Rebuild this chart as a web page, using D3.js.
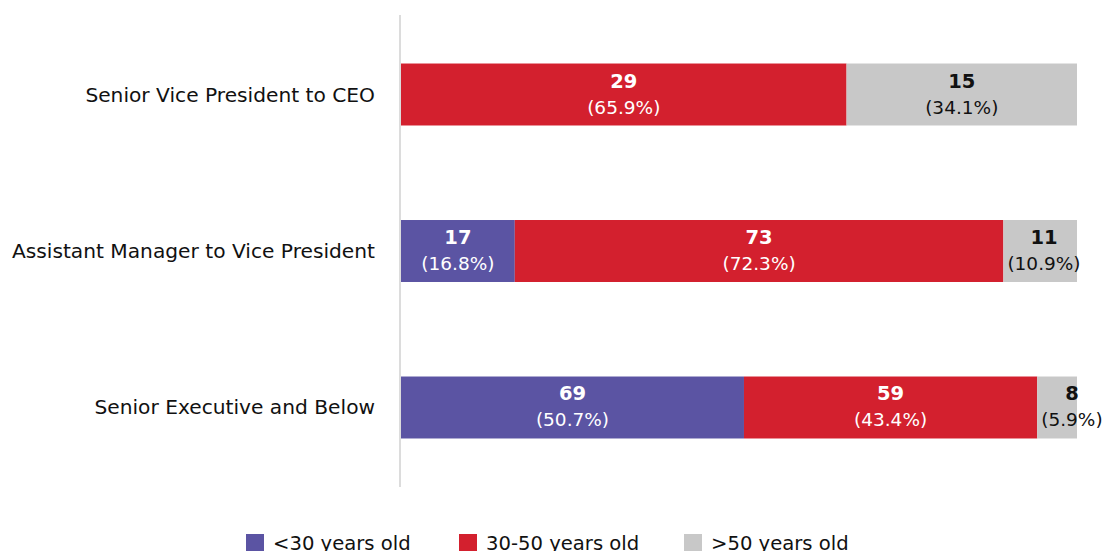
<!DOCTYPE html>
<html><head><meta charset="utf-8">
<script src="https://cdn.jsdelivr.net/npm/d3@7"></script>
<style>body{margin:0;background:#fff;}svg{display:block;font-family:"DejaVu Sans",sans-serif;}</style>
</head><body><svg id="c" width="1102" height="551"></svg>
<script>
const categories = ["Senior Vice President to CEO","Assistant Manager to Vice President","Senior Executive and Below"];
const seriesNames = ["<30 years old","30-50 years old",">50 years old"];
const under30 = [0,17,69];
const from30to50 = [29,73,59];
const over50 = [15,11,8];
const colors = ["#5b54a3","#d3202e","#c8c8c8"];
const textColors = ["#ffffff","#ffffff","#111111"];

(function(){
const svg = d3.select("#c");
const L = 401, R = 1077, T = 15, B = 487;
const x = d3.scaleLinear().domain([0,1]).range([L,R]);
const y = d3.scaleBand().domain(categories).range([T, B]).paddingInner(0.604).paddingOuter(0.31);

const rows = categories.map((c,i)=>{
  const vals=[under30[i],from30to50[i],over50[i]];
  const tot=d3.sum(vals);
  let cum=0;
  return vals.map((v,j)=>{const s={cat:c,j,v,p:v/tot,x0:cum/tot,x1:(cum+v)/tot};cum+=v;return s;});
});
const segs = rows.flat().filter(d=>d.v>0);

svg.append("line").attr("x1",L-1).attr("x2",L-1).attr("y1",T).attr("y2",B)
  .attr("stroke","#d0d0d0").attr("stroke-width",1.5);

svg.selectAll("rect.bar").data(segs).join("rect").attr("class","bar")
  .attr("x",d=>x(d.x0)).attr("width",d=>x(d.x1)-x(d.x0))
  .attr("y",d=>y(d.cat)).attr("height",y.bandwidth())
  .attr("fill",d=>colors[d.j]);

const lab = svg.selectAll("g.lab").data(segs).join("g").attr("class","lab");
lab.each(function(d){
  const g=d3.select(this);
  const sw = x(d.x1)-x(d.x0);
  let cx = (x(d.x0)+x(d.x1))/2;
  const t1=g.append("text").attr("text-anchor","middle").attr("font-weight","bold").attr("font-size",19.5)
    .attr("fill",textColors[d.j]).attr("y",y(d.cat)+y.bandwidth()/2-7).text(d.v);
  const t2=g.append("text").attr("text-anchor","middle").attr("font-size",18.5)
    .attr("fill",textColors[d.j]).attr("y",y(d.cat)+y.bandwidth()/2+19).text("("+(d.p*100).toFixed(1)+"%)");
  const tw = t2.node().getComputedTextLength();
  if (tw > sw-10) cx += (tw - sw)/2 + 4;
  t1.attr("x",cx); t2.attr("x",cx);
});

svg.selectAll("text.cat").data(categories).join("text").attr("class","cat")
  .attr("x",375).attr("y",d=>y(d)+y.bandwidth()/2+7).attr("text-anchor","end")
  .attr("font-size",20.2).attr("fill","#111").text(d=>d);

const legX=[246,459,684];
const leg = svg.selectAll("g.leg").data(seriesNames).join("g").attr("class","leg")
  .attr("transform",(d,i)=>`translate(${legX[i]},534)`);
leg.append("rect").attr("width",18).attr("height",18).attr("fill",(d,i)=>colors[i]);
leg.append("text").attr("x",27).attr("y",16).attr("font-size",19.6).attr("fill","#111").text(d=>d);
})();
</script></body></html>
